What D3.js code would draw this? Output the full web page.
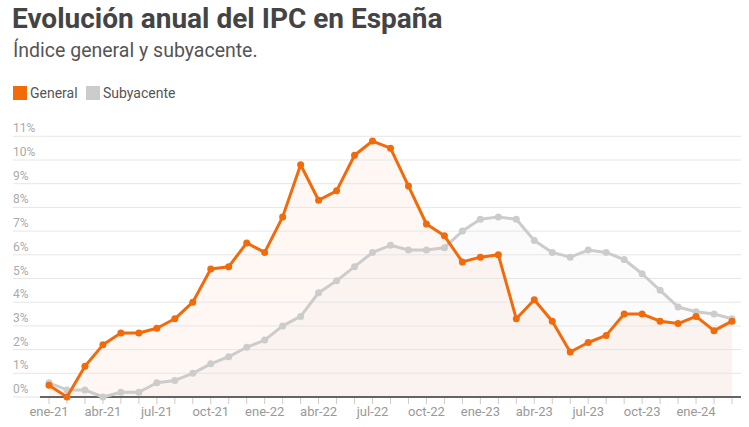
<!DOCTYPE html>
<html>
<head>
<meta charset="utf-8">
<script src="https://cdn.jsdelivr.net/npm/d3@7"></script>
<style>
  body { margin: 0; background: #fff; font-family: Roboto, "Noto Sans", sans-serif; }
</style>
</head>
<body>
<div id="chart"></div>
<script>
// monthly data, ene-21 .. mar-24
const months = ["ene-21","feb-21","mar-21","abr-21","may-21","jun-21","jul-21","ago-21","sep-21","oct-21","nov-21","dic-21",
  "ene-22","feb-22","mar-22","abr-22","may-22","jun-22","jul-22","ago-22","sep-22","oct-22","nov-22","dic-22",
  "ene-23","feb-23","mar-23","abr-23","may-23","jun-23","jul-23","ago-23","sep-23","oct-23","nov-23","dic-23",
  "ene-24","feb-24","mar-24"];
const general = [0.5,0.0,1.3,2.2,2.7,2.7,2.9,3.3,4.0,5.4,5.5,6.5,
  6.1,7.6,9.8,8.3,8.7,10.2,10.8,10.5,8.9,7.3,6.8,5.7,
  5.9,6.0,3.3,4.1,3.2,1.9,2.3,2.6,3.5,3.5,3.2,3.1,
  3.4,2.8,3.2];
const subyacente = [0.6,0.3,0.3,0.0,0.2,0.2,0.6,0.7,1.0,1.4,1.7,2.1,
  2.4,3.0,3.4,4.4,4.9,5.5,6.1,6.4,6.2,6.2,6.3,7.0,
  7.5,7.6,7.5,6.6,6.1,5.9,6.2,6.1,5.8,5.2,4.5,3.8,
  3.6,3.5,3.3];
const yTicks = [0,1,2,3,4,5,6,7,8,9,10,11];
const xLabels = ["ene-21","abr-21","jul-21","oct-21","ene-22","abr-22","jul-22","oct-22","ene-23","abr-23","jul-23","oct-23","ene-24"];

const width = 749, height = 427;
const orange = "#f26a0a", grey = "#cccccc";

const svg = d3.select("#chart").append("svg")
    .attr("width", width)
    .attr("height", height);

// title + subtitle
svg.append("text")
    .attr("x", 12).attr("y", 28)
    .style("font-size", "28px").style("font-weight", "bold")
    .attr("fill", "#444")
    .text("Evolución anual del IPC en España");
svg.append("text")
    .attr("x", 13).attr("y", 57)
    .style("font-size", "19.5px")
    .attr("fill", "#555")
    .text("Índice general y subyacente.");

// legend
let legend = [["General", orange, 13], ["Subyacente", grey, 86]];
legend.forEach(function(l) {
  svg.append("rect").attr("x", l[2]).attr("y", 86).attr("width", 14).attr("height", 14).attr("fill", l[1]);
  svg.append("text").attr("x", l[2] + 17).attr("y", 98)
    .style("font-size", "14px").attr("fill", "#555").text(l[0]);
});

let x = d3.scaleLinear().domain([0, months.length - 1]).range([49, 732]);
let y = d3.scaleLinear().domain([0, 11]).range([397, 136.3]);

// areas (subyacente behind)
let areaGen = d3.area().x((d, i) => x(i)).y0(y(0)).y1(d => y(d));
svg.append("path").datum(subyacente).attr("d", areaGen)
    .attr("fill", "#bbbbbb").attr("fill-opacity", 0.06);
svg.append("path").datum(general).attr("d", areaGen)
    .attr("fill", orange).attr("fill-opacity", 0.05);

// gridlines + y labels
let grid = svg.append("g");
yTicks.filter(d => d > 0).forEach(function(t) {
  grid.append("line")
    .attr("x1", 13).attr("x2", 741)
    .attr("y1", y(t)).attr("y2", y(t))
    .attr("stroke", "#e6e6e6").attr("stroke-width", 1);
});
grid.append("line")
    .attr("x1", 13).attr("x2", 40)
    .attr("y1", y(0)).attr("y2", y(0))
    .attr("stroke", "#e6e6e6");
grid.selectAll("text.ylab").data(yTicks).enter()
  .append("text")
    .attr("class", "ylab")
    .attr("x", 13)
    .attr("y", d => y(d) - 4)
    .style("font-size", "12px")
    .attr("fill", "#aaa")
    .text(d => d + "%");

// x axis
svg.append("line")
    .attr("x1", 40).attr("x2", 741)
    .attr("y1", y(0)).attr("y2", y(0))
    .attr("stroke", "#333").attr("stroke-width", 1.5);
svg.append("g").selectAll("line").data(months).enter()
  .append("line")
    .attr("x1", (d, i) => x(i)).attr("x2", (d, i) => x(i))
    .attr("y1", y(0) + 1).attr("y2", y(0) + 7)
    .attr("stroke", "#ccc");
svg.append("g").selectAll("text").data(xLabels).enter()
  .append("text")
    .attr("x", d => x(months.indexOf(d)))
    .attr("y", 416)
    .style("text-anchor", "middle")
    .style("font-size", "13px")
    .attr("fill", "#999")
    .text(d => d);

// lines + dots
let line = d3.line().x((d, i) => x(i)).y(d => y(d));
[[subyacente, grey], [general, orange]].forEach(function(s) {
  svg.append("path").datum(s[0]).attr("d", line)
    .attr("fill", "none").attr("stroke", s[1]).attr("stroke-width", 3)
    .attr("stroke-linejoin", "round");
  svg.append("g").selectAll("circle").data(s[0]).enter()
    .append("circle")
      .attr("cx", (d, i) => x(i))
      .attr("cy", d => y(d))
      .attr("r", 3.5)
      .attr("fill", s[1]);
});
</script>
</body>
</html>
